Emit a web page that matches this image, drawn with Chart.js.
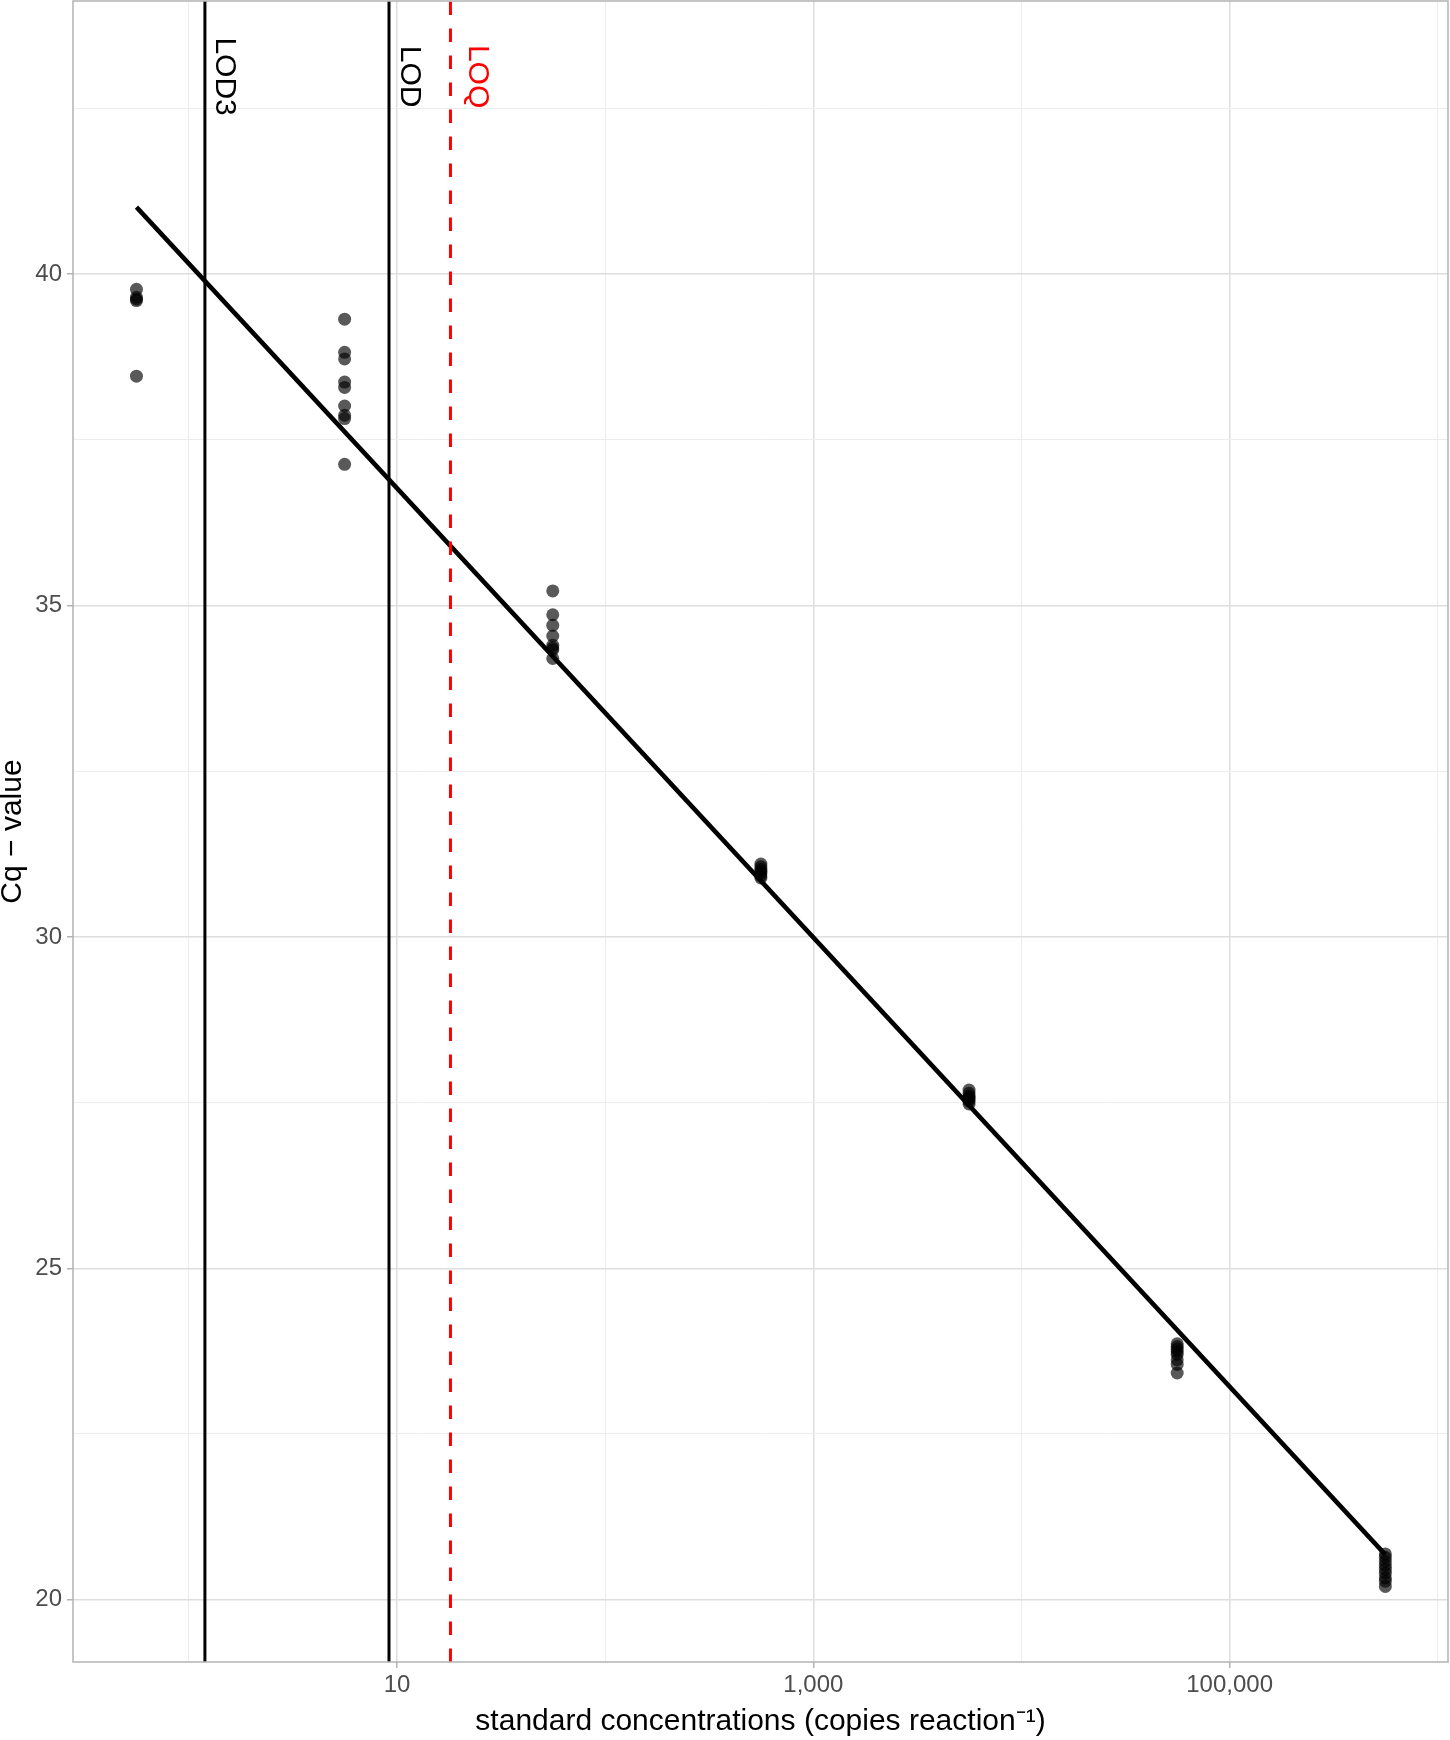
<!DOCTYPE html>
<html>
<head>
<meta charset="utf-8">
<script src="https://cdn.jsdelivr.net/npm/chart.js@4.4.1/dist/chart.umd.min.js"></script>
<style>
body{margin:0;background:#fff}
#wrap{width:1450px;height:1740px}
</style>
</head>
<body>
<div id="wrap"><canvas id="myChart" width="1450" height="1740"></canvas></div>
<script>
// standard dilutions (copies per reaction) and the Cq values measured at each
const concentrations = [0.56, 5.6, 56, 560, 5600, 56000, 560000]
const cqLevel1 = [39.77, 39.65, 39.62, 39.60, 38.46]
const cqLevel2 = [39.32, 38.82, 38.72, 38.37, 38.29, 38.01, 37.87, 37.82, 37.13]
const cqLevel3 = [35.22, 34.86, 34.70, 34.54, 34.40, 34.36, 34.33, 34.20]
const cqLevel4 = [31.10, 31.06, 31.02, 30.99, 30.96, 30.92, 30.89]
const cqLevel5 = [27.69, 27.64, 27.60, 27.58, 27.55, 27.52, 27.48]
const cqLevel6 = [23.86, 23.82, 23.78, 23.74, 23.70, 23.62, 23.55, 23.42]
const cqLevel7 = [20.69, 20.64, 20.58, 20.52, 20.46, 20.40, 20.33, 20.28, 20.20]
const cqLevels = [cqLevel1, cqLevel2, cqLevel3, cqLevel4, cqLevel5, cqLevel6, cqLevel7]

// fitted standard curve at lowest and highest standard
const fitCq = [41.01, 20.68]

// detection / quantification limits
const limitNames = ['LOD3', 'LOD', 'LOQ']
const limitValues = [1.194, 9.15, 18.06]
const limitLabelX = [1.485, 11.5, 24.2]
const limitLabelCq = 42.98
const limitColors = ['#000000', '#000000', '#ff0000']

// axes
const xTicks = [1, 10, 100, 1000, 10000, 100000, 1000000]
const xLabels = [10, 1000, 100000]
const yTicks = [20, 22.5, 25, 27.5, 30, 32.5, 35, 37.5, 40, 42.5]
const yLabels = [20, 25, 30, 35, 40]
const xMin = 0.2775, xMax = 1120000
const yMin = 19.06, yMax = 44.12

var points = []
concentrations.forEach((c, i) => {
    cqLevels[i].forEach(v => points.push({x: c, y: v}))
})

var limitSets = limitValues.map((v, i) => ({
    data: [{x: v, y: yMin}, {x: v, y: yMax}],
    showLine: true,
    pointRadius: 0,
    borderColor: limitColors[i],
    borderWidth: 3,
    borderDash: i == 2 ? [13.5, 13.5] : [],
    order: 1
}))

const font = '"Liberation Sans", Arial, Helvetica, sans-serif'

const extras = {
    id: 'extras',
    afterDatasetsDraw(chart) {
        const ctx = chart.ctx, xs = chart.scales.x, ys = chart.scales.y, a = chart.chartArea
        ctx.save()
        ctx.font = '30px ' + font
        ctx.textAlign = 'center'
        ctx.textBaseline = 'middle'
        limitNames.forEach((name, i) => {
            ctx.save()
            ctx.translate(xs.getPixelForValue(limitLabelX[i]), ys.getPixelForValue(limitLabelCq))
            ctx.rotate(Math.PI / 2)
            ctx.fillStyle = limitColors[i]
            ctx.fillText(name, 0, 0)
            ctx.restore()
        })
        ctx.strokeStyle = '#b3b3b3'
        ctx.lineWidth = 1.5
        ctx.strokeRect(a.left, a.top, a.right - a.left, a.bottom - a.top)
        ctx.restore()
    }
}

function gridStyle(labels) {
    return {
        drawTicks: true,
        tickLength: 6,
        color: c => c.tick && labels.includes(c.tick.value) ? '#dedede' : '#ececec',
        lineWidth: c => c.tick && labels.includes(c.tick.value) ? 1.5 : 1,
        tickColor: c => c.tick && labels.includes(c.tick.value) ? '#b3b3b3' : 'rgba(0,0,0,0)'
    }
}

function noPadding(s) {
    s.paddingTop = 0
    s.paddingBottom = 0
    s.paddingLeft = 0
    s.paddingRight = 0
}

var myChart = document.getElementById('myChart').getContext('2d')
var chart = new Chart(myChart, {
    type: 'scatter',
    data: {
        datasets: [
            {
                data: points,
                pointRadius: 6.5,
                pointBorderWidth: 0,
                pointBackgroundColor: 'rgba(0,0,0,0.65)',
                pointBorderColor: 'rgba(0,0,0,0)',
                order: 3
            },
            {
                data: [{x: concentrations[0], y: fitCq[0]}, {x: concentrations[6], y: fitCq[1]}],
                showLine: true,
                pointRadius: 0,
                borderColor: '#000',
                borderWidth: 4.5,
                order: 2
            },
            ...limitSets
        ]
    },
    options: {
        responsive: false,
        animation: false,
        layout: {autoPadding: false, padding: {top: 1, right: 2, left: 0, bottom: 0}},
        plugins: {legend: {display: false}, tooltip: {enabled: false}},
        scales: {
            x: {
                type: 'logarithmic',
                min: xMin,
                max: xMax,
                afterBuildTicks: s => { s.ticks = xTicks.map(v => ({value: v})) },
                afterFit: s => { s.height = 78; noPadding(s) },
                grid: gridStyle(xLabels),
                border: {display: false},
                ticks: {
                    autoSkip: false,
                    maxRotation: 0,
                    padding: 3,
                    color: '#4d4d4d',
                    font: {family: font, size: 24},
                    callback: v => xLabels.includes(v) ? v.toLocaleString('en-US') : ''
                },
                title: {
                    display: true,
                    text: 'standard concentrations (copies reaction\u207B\u00B9)',
                    color: '#000',
                    font: {family: font, size: 30, lineHeight: 1},
                    padding: {top: 0, bottom: 3}
                }
            },
            y: {
                min: yMin,
                max: yMax,
                afterBuildTicks: s => { s.ticks = yTicks.map(v => ({value: v})) },
                afterFit: s => { s.width = 73; noPadding(s) },
                grid: gridStyle(yLabels),
                border: {display: false},
                ticks: {
                    autoSkip: false,
                    padding: 5,
                    color: '#4d4d4d',
                    font: {family: font, size: 24},
                    callback: v => yLabels.includes(v) ? String(v) : ''
                },
                title: {
                    display: true,
                    text: 'Cq \u2212 value',
                    color: '#000',
                    font: {family: font, size: 30, lineHeight: 1},
                    padding: {top: -2, bottom: 0}
                }
            }
        }
    },
    plugins: [extras]
})
</script>
</body>
</html>
